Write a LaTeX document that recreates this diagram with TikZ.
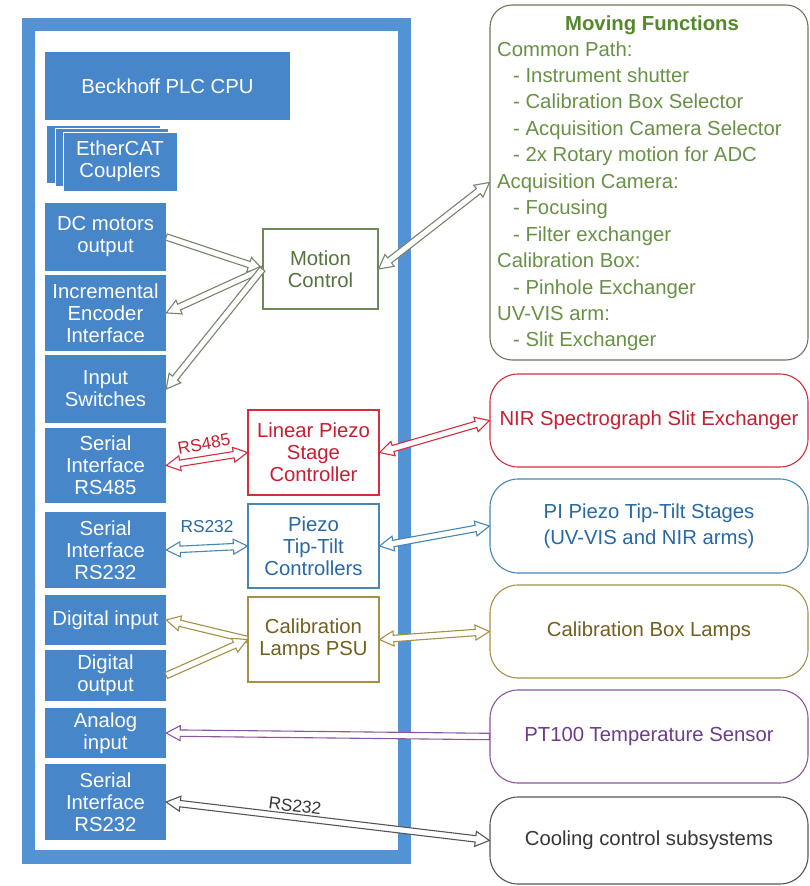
\documentclass[tikz,border=0pt]{standalone}
\usepackage{fontspec}
\setmainfont{Liberation Sans}
\usetikzlibrary{calc}
\definecolor{plcblue}{RGB}{72,134,202}
\definecolor{framebl}{RGB}{84,146,214}
\definecolor{mcline}{RGB}{110,135,90}
\definecolor{mctext}{RGB}{85,115,65}
\definecolor{mfline}{RGB}{105,120,95}
\definecolor{mftitle}{RGB}{85,135,45}
\definecolor{mftext}{RGB}{105,145,70}
\definecolor{mcarrow}{RGB}{120,132,108}
\definecolor{redc}{RGB}{212,45,60}
\definecolor{redt}{RGB}{200,30,50}
\definecolor{bluec}{RGB}{70,135,180}
\definecolor{bluet}{RGB}{40,105,165}
\definecolor{olivec}{RGB}{165,145,70}
\definecolor{olivet}{RGB}{115,95,30}
\definecolor{purplec}{RGB}{140,85,160}
\definecolor{purplet}{RGB}{110,60,140}
\definecolor{grayc}{RGB}{85,85,85}
\definecolor{grayt}{RGB}{55,55,55}

\newcommand\fatarrow[4]{%
  \path let \p1=(#2), \p2=(#3) in \pgfextra{%
    \pgfmathsetmacro\faAt{atan2(\y2-\y1,\x2-\x1)}%
    \pgfmathsetmacro\faLt{veclen(\x2-\x1,\y2-\y1)}%
    \xdef\faA{\faAt}\xdef\faL{\faLt}\xdef\faX{\x1}\xdef\faY{\y1}};
  \begin{scope}[shift={(\faX,\faY)}, rotate=\faA]
    \ifnum#4=2
      \draw[#1] (0pt,0pt) -- (14pt,7.5pt) -- (14pt,3.2pt) -- ({\faL*1pt-14pt},3.2pt)
        -- ({\faL*1pt-14pt},7.5pt) -- ({\faL*1pt},0pt) -- ({\faL*1pt-14pt},-7.5pt)
        -- ({\faL*1pt-14pt},-3.2pt) -- (14pt,-3.2pt) -- (14pt,-7.5pt) -- cycle;
    \else
      \draw[#1] (0pt,3.2pt) -- ({\faL*1pt-14pt},3.2pt)
        -- ({\faL*1pt-14pt},7.5pt) -- ({\faL*1pt},0pt) -- ({\faL*1pt-14pt},-7.5pt)
        -- ({\faL*1pt-14pt},-3.2pt) -- (0pt,-3.2pt) -- cycle;
    \fi
  \end{scope}}

\begin{document}
\begin{tikzpicture}[x=1pt,y=-1pt,
  font=\fontsize{20.3}{22}\selectfont,
  pbox/.style={rectangle, fill=plcblue, text=white, inner sep=0pt, align=center, minimum width=121pt},
  ecbox/.style={rectangle, fill=plcblue, draw=white, line width=0.7pt, text=white, inner sep=0pt, align=center},
  ctrl/.style={rectangle, fill=white, line width=1.1pt, inner sep=0pt, align=center, minimum width=131pt, minimum height=85pt},
  rbox/.style={rectangle, rounded corners=28pt, fill=white, line width=1.1pt, inner sep=0pt, align=center, minimum width=318pt, minimum height=93pt, font=\fontsize{20.3}{26.5}\selectfont},
  arr/.style={draw=#1, fill=white, line width=1.1pt, line join=miter},
  lbl/.style={inner sep=0pt, font=\fontsize{17.3}{18}\selectfont}]

\useasboundingbox (0,0) rectangle (810,886);
\fill[white] (0,0) rectangle (810,886);

% PLC frame
\draw[framebl, line width=13.5pt] (28.5,24.5) rectangle (404.5,857);

% PLC modules
\node[pbox, minimum width=245pt, minimum height=68pt] (cpu) at (167.5,86) {Beckhoff PLC CPU};
\node[ecbox, minimum width=114pt, minimum height=58pt] (ec1) at (103,154) {};
\node[ecbox, minimum width=113pt, minimum height=58pt] (ec2) at (111.5,157) {};
\node[ecbox, minimum width=114pt, minimum height=59pt] (ec3) at (120,161.5) {EtherCAT\\Couplers};

\node[pbox, minimum height=68pt] (dc) at (105.5,237) {DC motors\\output};
\node[pbox, minimum height=76pt] (enc) at (105.5,313) {Incremental\\Encoder\\Interface};
\node[pbox, minimum height=68pt] (sw) at (105.5,389) {Input\\Switches};
\node[pbox, minimum height=75pt] (rs485) at (105.5,465.5) {Serial\\Interface\\RS485};
\node[pbox, minimum height=76pt] (rsa) at (105.5,550) {Serial\\Interface\\RS232};
\node[pbox, minimum height=50pt] (din) at (105.5,620) {Digital input};
\node[pbox, minimum height=51pt] (dout) at (105.5,675.5) {Digital\\output};
\node[pbox, minimum height=50pt] (ain) at (105.5,733) {Analog\\input};
\node[pbox, minimum height=76pt] (rsb) at (105.5,802) {Serial\\Interface\\RS232};

% controllers
\node[ctrl, draw=mcline, text=mctext, minimum width=115pt, minimum height=80pt] (mc) at (320.5,269) {Motion\\Control};
\node[ctrl, draw=redc, text=redt] (lin) at (313.5,452.5) {Linear Piezo\\Stage\\Controller};
\node[ctrl, draw=bluec, text=bluet, minimum height=84pt] (ptt) at (313.5,546) {Piezo\\Tip-Tilt\\Controllers};
\node[ctrl, draw=olivec, text=olivet] (psu) at (313.5,639.5) {Calibration\\Lamps PSU};

% right side boxes
\node[rbox, rounded corners=22pt, draw=mfline, minimum height=355pt] (mf) at (649,182.5) {};
\node[anchor=base, inner sep=0pt, text=mftitle, font=\fontsize{20.3}{22}\selectfont\bfseries] (mft) at (652,30) {Moving Functions};
\foreach \d/\t [count=\i] in {0/Common Path:, 1/- Instrument shutter, 1/- Calibration Box Selector,
  1/- Acquisition Camera Selector, 1/- 2x Rotary motion for ADC, 0/Acquisition Camera:,
  1/- Focusing, 1/- Filter exchanger, 0/Calibration Box:, 1/- Pinhole Exchanger,
  0/UV-VIS arm:, 1/- Slit Exchanger}
  \node[anchor=base west, inner sep=0pt, text=mftext] (mfl\i) at ({497+16*\d},{56+26.45*(\i-1)}) {\t};

\node[rbox, draw=redc, text=redt] (nir) at (649,420.5) {NIR Spectrograph Slit Exchanger};
\node[rbox, draw=bluec, text=bluet, minimum height=94pt] (pi) at (649,526) {PI Piezo Tip-Tilt Stages\\(UV-VIS and NIR arms)};
\node[rbox, draw=olivec, text=olivet] (cbl) at (649,631.5) {Calibration Box Lamps};
\node[rbox, draw=purplec, text=purplet] (pt) at (649,736.5) {PT100 Temperature Sensor};
\node[rbox, draw=grayc, text=grayt, minimum height=87pt] (cool) at (649,840.5) {Cooling control subsystems};

% connectors
\fatarrow{arr=mcarrow}{dc.east}{mc.west}{1}
\fatarrow{arr=mcarrow}{mc.west}{enc.east}{1}
\fatarrow{arr=mcarrow}{mc.west}{sw.east}{1}
\fatarrow{arr=mcarrow}{mc.east}{mf.west}{2}
\fatarrow{arr=redc}{rs485.east}{lin.west}{2}
\fatarrow{arr=redc}{lin.east}{nir.west}{2}
\fatarrow{arr=bluec}{rsa.east}{ptt.west}{2}
\fatarrow{arr=bluec}{ptt.east}{pi.west}{2}
\fatarrow{arr=olivec}{psu.west}{din.east}{1}
\fatarrow{arr=olivec}{dout.east}{psu.west}{1}
\fatarrow{arr=olivec}{psu.east}{cbl.west}{2}
\fatarrow{arr=purplec}{pt.west}{ain.east}{1}
\fatarrow{arr=grayc}{rsb.east}{cool.west}{2}

% labels
\node[lbl, text=redt, rotate=10] (l485) at (204,444) {RS485};
\node[lbl, text=bluet] (l232a) at (207,527) {RS232};
\node[lbl, text=grayt, rotate=-7] (l232b) at (295,806) {RS232};
\end{tikzpicture}
\end{document}
